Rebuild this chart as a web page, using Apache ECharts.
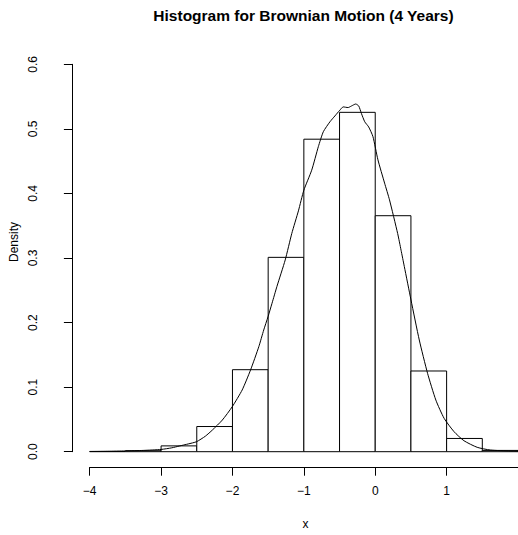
<!DOCTYPE html>
<html>
<head>
<meta charset="utf-8">
<script src="https://cdn.jsdelivr.net/npm/echarts@6/dist/echarts.min.js"></script>
<style>
html,body{margin:0;padding:0;background:#fff;}
#c{width:518px;height:535px;}
</style>
</head>
<body>
<div id="c"></div>
<script>
// ---- data ----
var breaks = [-4, -3.5, -3, -2.5, -2, -1.5, -1, -0.5, 0, 0.5, 1, 1.5, 2];
var densities = [0.0003, 0.0015, 0.009, 0.039, 0.127, 0.301, 0.484, 0.5256, 0.3655, 0.125, 0.0205, 0.002];
var kdeX = [-4.0, -3.75, -3.5, -3.25, -3.0, -2.85, -2.744, -2.62, -2.503, -2.38, -2.281, -2.142, -2.003, -1.864, -1.747, -1.631, -1.562, -1.502, -1.446, -1.377, -1.261, -1.169, -1.076, -1.0, -0.890, -0.797, -0.727, -0.634, -0.565, -0.495, -0.449, -0.380, -0.334, -0.273, -0.231, -0.194, -0.147, -0.092, -0.032, 0.038, 0.131, 0.200, 0.314, 0.362, 0.407, 0.501, 0.617, 0.733, 0.849, 0.965, 1.104, 1.243, 1.428, 1.613, 1.892, 2.0];
var kdeY = [0.0004, 0.0007, 0.0012, 0.002, 0.0035, 0.006, 0.0088, 0.012, 0.0155, 0.024, 0.0336, 0.049, 0.0697, 0.0956, 0.1265, 0.1626, 0.1885, 0.209, 0.2298, 0.256, 0.297, 0.338, 0.373, 0.405, 0.436, 0.4724, 0.4956, 0.511, 0.520, 0.529, 0.534, 0.533, 0.5354, 0.5385, 0.5354, 0.524, 0.511, 0.503, 0.488, 0.452, 0.416, 0.390, 0.338, 0.312, 0.287, 0.235, 0.173, 0.1214, 0.080, 0.0517, 0.031, 0.017, 0.0068, 0.0026, 0.001, 0.0008];
var xTicks = [-4, -3, -2, -1, 0, 1, 2];
var xTickLabels = ['\u22124', '\u22123', '\u22122', '\u22121', '0', '1', '2'];
var yTicks = [0, 0.1, 0.2, 0.3, 0.4, 0.5, 0.6];
var yTickLabels = ['0.0', '0.1', '0.2', '0.3', '0.4', '0.5', '0.6'];
var titleText = 'Histogram for Brownian Motion (4 Years)';
var xName = 'x';
var yName = 'Density';

// ---- build ----
var FONT = 'Liberation Sans, Arial, Helvetica, sans-serif';
var histData = [];
for (var i = 0; i < densities.length; i++) {
  histData.push([breaks[i], breaks[i + 1], densities[i]]);
}
var kdeData = kdeX.map(function (x, i) { return [x, kdeY[i]]; });

function lookup(ticks, labels, v) {
  for (var i = 0; i < ticks.length; i++) {
    if (Math.abs(ticks[i] - v) < 1e-9) return labels[i];
  }
  return '';
}

var chart = echarts.init(document.getElementById('c'), null, { renderer: 'svg' });
chart.setOption({
  animation: false,
  backgroundColor: '#ffffff',
  grid: { left: 89.7, right: -3.1, top: 64.3, bottom: 83.3, containLabel: false },
  xAxis: {
    type: 'value', min: -4, max: 2, interval: 1, offset: 15.5,
    axisLine: { show: true, onZero: false, lineStyle: { color: '#000', width: 1 } },
    axisTick: { show: true, length: 8.5, lineStyle: { color: '#000', width: 1 } },
    axisLabel: {
      show: true, margin: 18, color: '#000', fontSize: 12, fontFamily: FONT,
      showMaxLabel: false,
      formatter: function (v) { return lookup(xTicks, xTickLabels, v); }
    },
    splitLine: { show: false }
  },
  yAxis: {
    type: 'value', min: 0, max: 0.6, interval: 0.1, offset: 17.3,
    axisLine: { show: true, onZero: false, lineStyle: { color: '#000', width: 1 } },
    axisTick: { show: true, length: 8.5, lineStyle: { color: '#000', width: 1 } },
    axisLabel: {
      show: true, margin: 33, rotate: 90, color: '#000', fontSize: 12, fontFamily: FONT,
      formatter: function (v) { return lookup(yTicks, yTickLabels, v); }
    },
    splitLine: { show: false }
  },
  graphic: [
    { type: 'text', x: 303.5, y: 15.3, style: { text: titleText, fill: '#000', font: 'bold 15.5px ' + FONT, textAlign: 'center', textVerticalAlign: 'middle' } },
    { type: 'text', x: 305.4, y: 524.4, style: { text: xName, fill: '#000', font: '12px ' + FONT, textAlign: 'center', textVerticalAlign: 'middle' } },
    { type: 'text', x: 14, y: 242, rotation: Math.PI / 2, style: { text: yName, fill: '#000', font: '12px ' + FONT, textAlign: 'center', textVerticalAlign: 'middle' } }
  ],
  series: [
    {
      type: 'custom',
      data: histData,
      clip: false,
      renderItem: function (params, api) {
        var p0 = api.coord([api.value(0), api.value(2)]);
        var p1 = api.coord([api.value(1), 0]);
        return {
          type: 'rect',
          shape: { x: p0[0], y: p0[1], width: p1[0] - p0[0], height: p1[1] - p0[1] },
          style: { fill: '#fff', stroke: '#000', lineWidth: 1 }
        };
      },
      z: 2
    },
    {
      type: 'line',
      data: kdeData,
      showSymbol: false,
      symbol: 'none',
      smooth: 0.2,
      lineStyle: { color: '#000', width: 1 },
      z: 3
    }
  ]
});
</script>
</body>
</html>
